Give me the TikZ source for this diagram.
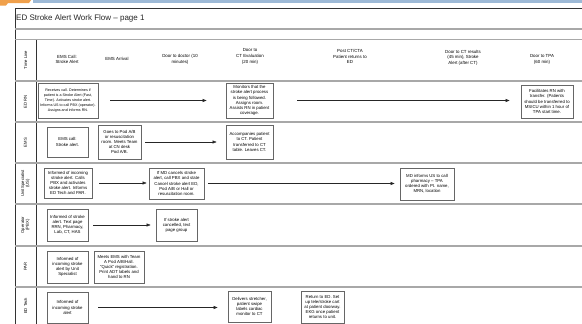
\documentclass[tikz,border=0pt]{standalone}
\usepackage{fontspec}
\setmainfont{Liberation Sans}
\usetikzlibrary{arrows.meta}
\definecolor{rulegray}{HTML}{A8A8A8}
\definecolor{taborange}{HTML}{F0A04B}
\definecolor{barblue}{HTML}{9DB9D6}
\begin{document}
\begin{tikzpicture}[x=1pt,y=-1pt,
  rowline/.style={draw=rulegray, line width=1.3pt},
  frameline/.style={draw=black!80, line width=0.6pt},
  box/.style={draw=black!60, line width=0.8pt, fill=white, align=center, inner sep=0.5pt,
    font=\fontsize{4.3}{5.1}\selectfont},
  smallbox/.style={box, font=\fontsize{3.65}{4.9}\selectfont},
  head/.style={align=center, inner sep=0pt, font=\fontsize{4.4}{5.6}\selectfont},
  lane/.style={align=center, inner sep=0pt, rotate=90, font=\fontsize{4.2}{4.8}\selectfont},
  flow/.style={draw=black!85, line width=0.5pt, -{Triangle[length=4pt,width=3pt]}},
  title/.style={anchor=west, inner sep=0pt, text=black!85, font=\fontsize{8}{9}\selectfont}]
\useasboundingbox (0,0) rectangle (582,324);
\fill[white] (0,0) rectangle (582,324);
% top decoration
\fill[taborange] (0,0) -- (31,0) -- (29,3) -- (8,3) -- (6,5.5) -- (0,5.5) -- cycle;
\fill[barblue] (33,0) rectangle (582,3);
% frame
\draw[frameline] (15,8) -- (582,8);
\draw[frameline] (15,8) -- (15,324);
\draw[frameline] (36,39.5) -- (36,324);
\draw[rowline] (15,29) -- (582,29);
\draw[rowline] (15,39.5) -- (582,39.5);
\foreach \yy in {81,122,163,204,246,287} {\draw[rowline] (15,\yy) -- (582,\yy);}
% title
\node[title] (ttl) at (16,18) {ED Stroke Alert Work Flow -- page 1};
% lane labels
\node[lane] (lTime) at (25.5,60) {Time Line};
\node[lane] (lRN) at (25.5,101.5) {ED RN};
\node[lane] (lEMS) at (25.5,142.5) {EMS};
\node[lane] (lUS) at (25.5,183.5) {Unit Specialist\\(US)};
\node[lane] (lOP) at (25.5,225) {Operator\\(PBX)};
\node[lane] (lPAR) at (25.5,266.5) {PAR};
\node[lane] (lTech) at (25.5,306) {ED Tech};
% time line headings
\node[head] (h1) at (67,59.5) {EMS Call:\\Stroke Alert};
\node[head] (h2) at (117,58.5) {EMS Arrival};
\node[head] (h3) at (180,59.5) {Door to doctor (10\\minutes)};
\node[head] (h4) at (250,56.5) {Door to\\CT Evaluation\\(20 min)};
\node[head] (h5) at (350,56.5) {Post CT/CTA\\Patient returns to\\ED};
\node[head] (h6) at (463,57.5) {Door to CT results\\(45 min), Stroke\\Alert (after CT)};
\node[head] (h7) at (542,59.5) {Door to TPA\\(60 min)};
% ED RN
\node[smallbox, minimum width=60, minimum height=35] (rn1) at (68,100.5) {Receives call. Determines if\\patient is a Stroke Alert (Fast,\\Time). Activates stroke alert.\\Informs US to call PBX (operator).\\Assigns and informs RN.};
\node[box, minimum width=47, minimum height=35] (rn2) at (249.5,100.5) {Monitors that the\\stroke alert process\\is being followed.\\Assigns room.\\Assists RN in patient\\coverage.};
\node[box, minimum width=52, minimum height=33] (rn3) at (547,101.5) {Facilitates RN with\\transfer. (Patients\\should be transferred to\\MSICU within 1 hour of\\TPA start time.};
\draw[flow, shorten <=12pt, shorten >=19pt] (rn1.east) -- (rn1.east -| rn2.west);
\draw[flow, shorten <=24pt, shorten >=11pt] (rn2.east) -- (rn2.east -| rn3.west);
% EMS
\node[box, minimum width=41, minimum height=30] (ems1) at (67.5,142) {EMS call:\\Stroke alert.};
\node[box, minimum width=43, minimum height=34] (ems2) at (119.5,142) {Goes to Pod A/B\\or resuscitation\\room. Meets Team\\at CN desk\\Pod A/B.};
\node[box, minimum width=47, minimum height=34] (ems3) at (249.5,142) {Accompanies patient\\to CT. Patient\\transferred to CT\\table. Leaves CT.};
\draw[flow, shorten <=4pt, shorten >=9pt] (ems2.east) -- (ems2.east -| ems3.west);
% Unit Specialist
\node[box, minimum width=48, minimum height=30] (us1) at (68,183) {Informed of incoming\\stroke alert. Calls\\PBX and activates\\stroke alert. Informs\\ED Tech and PAR.};
\node[box, minimum width=55, minimum height=31] (us2) at (176.5,183.5) {If MD cancels stroke\\alert, call PBX and state\\Cancel stroke alert ED,\\Pod A/B or Hall or\\resuscitation room.};
\node[box, minimum width=54, minimum height=32] (us3) at (427,184) {MD informs US to call\\pharmacy -- TPA\\ordered with Pt. name,\\MRN, location};
\draw[flow, shorten <=7pt, shorten >=2pt] (us1.east) -- (us1.east -| us2.west);
\draw[flow, shorten <=4pt, shorten >=5pt] (us2.east) -- (us2.east -| us3.west);
% Operator
\node[box, minimum width=41, minimum height=32] (op1) at (67.5,225) {Informed of stroke\\alert. Text page\\RRN, Pharmacy,\\Lab, CT, HAS};
\node[box, minimum width=41, minimum height=32] (op2) at (176.5,225) {If stroke alert\\cancelled, text\\page group};
\draw[flow, shorten <=5pt, shorten >=5pt] (op1.east) -- (op1.east -| op2.west);
% PAR
\node[box, minimum width=41, minimum height=32] (par1) at (67.5,267) {Informed of\\incoming stroke\\alert by Unit\\Specialist};
\node[box, minimum width=50, minimum height=32] (par2) at (119,267) {Meets EMS with Team\\A Pod A/B/Hall.\\``Quick'' registration.\\Print ADT labels and\\hand to RN};
% ED Tech
\node[box, minimum width=41, minimum height=31] (tech1) at (67.5,307.5) {Informed of\\incoming stroke\\alert};
\node[box, minimum width=43, minimum height=31] (tech2) at (249.5,306.5) {Delivers stretcher,\\patient swipe\\labels cardiac\\monitor to CT};
\node[box, minimum width=43, minimum height=32] (tech3) at (322.5,307) {Return to ED. Set\\up tele/stroke cart\\at patient doorway.\\EKG once patient\\returns to unit.};
\draw[flow, shorten <=10pt, shorten >=10pt] (tech1.east) -- (tech1.east -| tech2.west);
\end{tikzpicture}
\end{document}
